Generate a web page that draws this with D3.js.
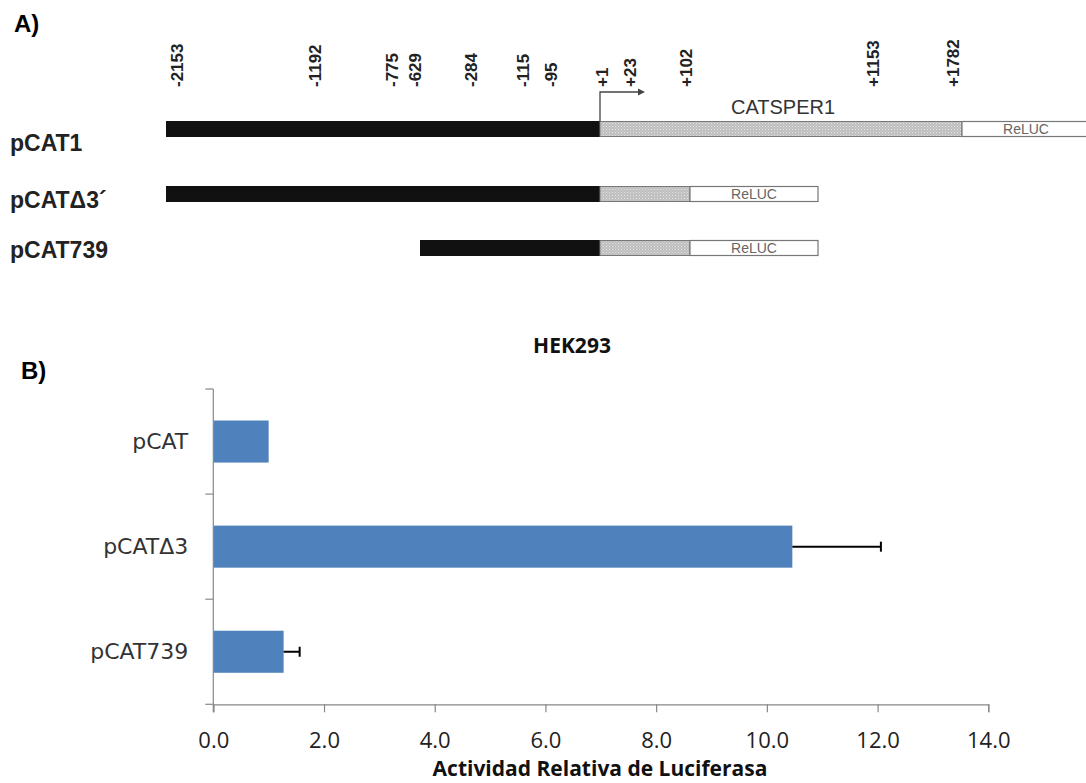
<!DOCTYPE html>
<html>
<head>
<meta charset="utf-8">
<script src="https://cdn.jsdelivr.net/npm/d3@7/dist/d3.min.js"></script>
<style>
html,body{margin:0;padding:0;background:#fff;}
svg{display:block;}
</style>
</head>
<body>
<svg id="chart" width="1086" height="783"></svg>
<script>
// ---- Panel A data ----
const promoterPositions = [-2153, -1192, -775, -629, -284, -115, -95, 1, 23, 102, 1153, 1782];
const positionLabels = ["-2153", "-1192", "-775", "-629", "-284", "-115", "-95", "+1", "+23", "+102", "+1153", "+1782"];
const constructNames = ["pCAT1", "pCAT\u03943\u00B4", "pCAT739"];
const constructStart = [-2153, -2153, -629];
const constructEnd = [1782, 102, 102];
const geneName = "CATSPER1";
const reporterName = "ReLUC";

// ---- Panel B data ----
const categories = ["pCAT", "pCAT\u03943", "pCAT739"];
const activity = [1.0, 10.46, 1.27];
const activityError = [0, 1.6, 0.29];
const xTicks = [0, 2, 4, 6, 8, 10, 12, 14];
const chartTitle = "HEK293";
const xAxisTitle = "Actividad Relativa de Luciferasa";

const svg = d3.select("#chart");

// ================= Panel A =================
const defs = svg.append("defs");
const pat = defs.append("pattern").attr("id", "stipple").attr("patternUnits", "userSpaceOnUse")
  .attr("width", 3).attr("height", 3);
pat.append("rect").attr("width", 3).attr("height", 3).attr("fill", "#bdbdbd");
pat.append("rect").attr("x", 0).attr("y", 0).attr("width", 1).attr("height", 1).attr("fill", "#e8e8e8");
pat.append("rect").attr("x", 1.5).attr("y", 1.5).attr("width", 1).attr("height", 1).attr("fill", "#dcdcdc");

// piecewise (not-to-scale) map from bp position to pixel, for the construct segments
const pos = d3.scaleLinear()
  .domain(promoterPositions)
  .range([166, 310, 388, 420, 468, 520, 548, 600, 628, 690, 871, 962]);
// placement of the position labels above the map
const labelPos = d3.scaleLinear()
  .domain(promoterPositions)
  .range([177, 315, 392, 415, 471, 523, 551, 602, 630, 686, 873, 953]);

const rowTops = [121, 186, 240];
const labelBase = [151, 208, 258];
const barH = 16;
const reporterW = 128;

svg.append("text").attr("x", 14).attr("y", 32)
  .attr("font-family", "Liberation Sans, Arial, sans-serif").attr("font-weight", "bold")
  .attr("font-size", 24).attr("fill", "#000").text("A)");

svg.append("g").selectAll("text").data(promoterPositions).join("text")
  .attr("transform", d => `translate(${labelPos(d)},87) rotate(-90)`)
  .attr("dy", "0.35em")
  .attr("text-anchor", "start")
  .attr("font-family", "Liberation Sans, Arial, sans-serif")
  .attr("font-weight", "bold")
  .attr("font-size", 17)
  .attr("fill", "#222")
  .text((d, i) => positionLabels[i]);

const rows = svg.append("g");
constructNames.forEach((name, i) => {
  const y = rowTops[i];
  const g = rows.append("g");
  g.append("rect").attr("x", pos(constructStart[i])).attr("y", y)
    .attr("width", pos(1) - pos(constructStart[i])).attr("height", barH)
    .attr("fill", "#111");
  g.append("rect").attr("x", pos(1)).attr("y", y + 0.5)
    .attr("width", pos(constructEnd[i]) - pos(1)).attr("height", barH - 1)
    .attr("fill", "url(#stipple)").attr("stroke", "#777").attr("stroke-width", 1);
  const rx = pos(constructEnd[i]);
  g.append("rect").attr("x", rx).attr("y", y + 0.5)
    .attr("width", reporterW).attr("height", barH - 1)
    .attr("fill", "#fff").attr("stroke", "#777").attr("stroke-width", 1.2);
  g.append("text").attr("x", rx + reporterW / 2).attr("y", y + barH / 2)
    .attr("dy", "0.36em").attr("text-anchor", "middle")
    .attr("font-family", "Liberation Sans, Arial, sans-serif")
    .attr("font-size", 14).attr("fill", "#666").text(reporterName);
  svg.append("text").attr("x", 10).attr("y", labelBase[i])
    .attr("font-family", "Liberation Sans, Arial, sans-serif").attr("font-weight", "bold")
    .attr("font-size", 23).attr("fill", "#222").text(name);
});

const tssX = pos(1);
svg.append("path")
  .attr("d", `M${tssX},${rowTops[0]} V92 H${pos(23) + 12}`)
  .attr("fill", "none").attr("stroke", "#444").attr("stroke-width", 1.3);
svg.append("path")
  .attr("d", `M${pos(23) + 17},92 l-7,-3.5 v7 z`)
  .attr("fill", "#444");

svg.append("text").attr("x", (pos(1) + pos(1782)) / 2 + 2).attr("y", 114)
  .attr("text-anchor", "middle")
  .attr("font-family", "Liberation Sans, Arial, sans-serif")
  .attr("font-size", 20).attr("fill", "#333").text(geneName);

// ================= Panel B =================
svg.append("text").attr("x", 21).attr("y", 379)
  .attr("font-family", "Liberation Sans, Arial, sans-serif").attr("font-weight", "bold")
  .attr("font-size", 24).attr("fill", "#000").text("B)");

const plotL = 213.3, plotR = 988.3, plotT = 389, plotB = 704.3;
const x = d3.scaleLinear().domain([0, 14]).range([plotL, plotR]);
const y = d3.scaleBand().domain(categories).range([plotT, plotB]).paddingInner(0.6).paddingOuter(0.3);

svg.append("text").attr("x", 572).attr("y", 353).attr("text-anchor", "middle")
  .attr("font-family", "Open Sans, sans-serif").attr("font-weight", "bold")
  .attr("font-size", 21).attr("fill", "#111").text(chartTitle);

svg.append("g").selectAll("rect").data(categories).join("rect")
  .attr("x", x(0))
  .attr("y", d => y(d))
  .attr("width", (d, i) => x(activity[i]) - x(0))
  .attr("height", y.bandwidth())
  .attr("fill", "#4f81bd");

const eb = svg.append("g");
categories.forEach((c, i) => {
  if (activityError[i] <= 0) return;
  const cy = y(c) + y.bandwidth() / 2;
  const x1 = x(activity[i]), x2 = x(activity[i] + activityError[i]);
  eb.append("line").attr("x1", x1).attr("x2", x2).attr("y1", cy).attr("y2", cy)
    .attr("stroke", "#000").attr("stroke-width", 2);
  eb.append("line").attr("x1", x2).attr("x2", x2).attr("y1", cy - 5).attr("y2", cy + 5)
    .attr("stroke", "#000").attr("stroke-width", 2);
});

const yAxisG = svg.append("g");
yAxisG.append("line").attr("x1", plotL).attr("x2", plotL).attr("y1", plotT).attr("y2", plotB + 8)
  .attr("stroke", "#888").attr("stroke-width", 1.2);
const bounds = d3.range(categories.length + 1).map(k => plotT + k * (plotB - plotT) / categories.length);
yAxisG.selectAll("line.tk").data(bounds).join("line").attr("class", "tk")
  .attr("x1", plotL - 8).attr("x2", plotL).attr("y1", d => d).attr("y2", d => d)
  .attr("stroke", "#888").attr("stroke-width", 1.2);
yAxisG.selectAll("text").data(categories).join("text")
  .attr("x", plotL - 25).attr("y", d => y(d) + y.bandwidth() / 2)
  .attr("dy", "0.35em").attr("text-anchor", "end")
  .attr("font-family", "DejaVu Sans, sans-serif").attr("font-size", 22)
  .attr("fill", "#333").text(d => d);

const xAxis = d3.axisBottom(x).tickValues(xTicks).tickFormat(d3.format(".1f")).tickSizeOuter(0).tickSize(8).tickPadding(20);
const xg = svg.append("g").attr("transform", `translate(0,${plotB})`).call(xAxis);
xg.select(".domain").attr("stroke", "#888").attr("stroke-width", 1.2);
xg.selectAll(".tick line").attr("stroke", "#888").attr("stroke-width", 1.2);
xg.selectAll(".tick text").attr("font-family", "Open Sans, sans-serif").attr("font-size", 22).attr("fill", "#222");

svg.append("text").attr("x", 600).attr("y", 776).attr("text-anchor", "middle")
  .attr("font-family", "Open Sans, sans-serif").attr("font-weight", "bold")
  .attr("font-size", 21).attr("fill", "#111").text(xAxisTitle);
</script>
</body>
</html>
